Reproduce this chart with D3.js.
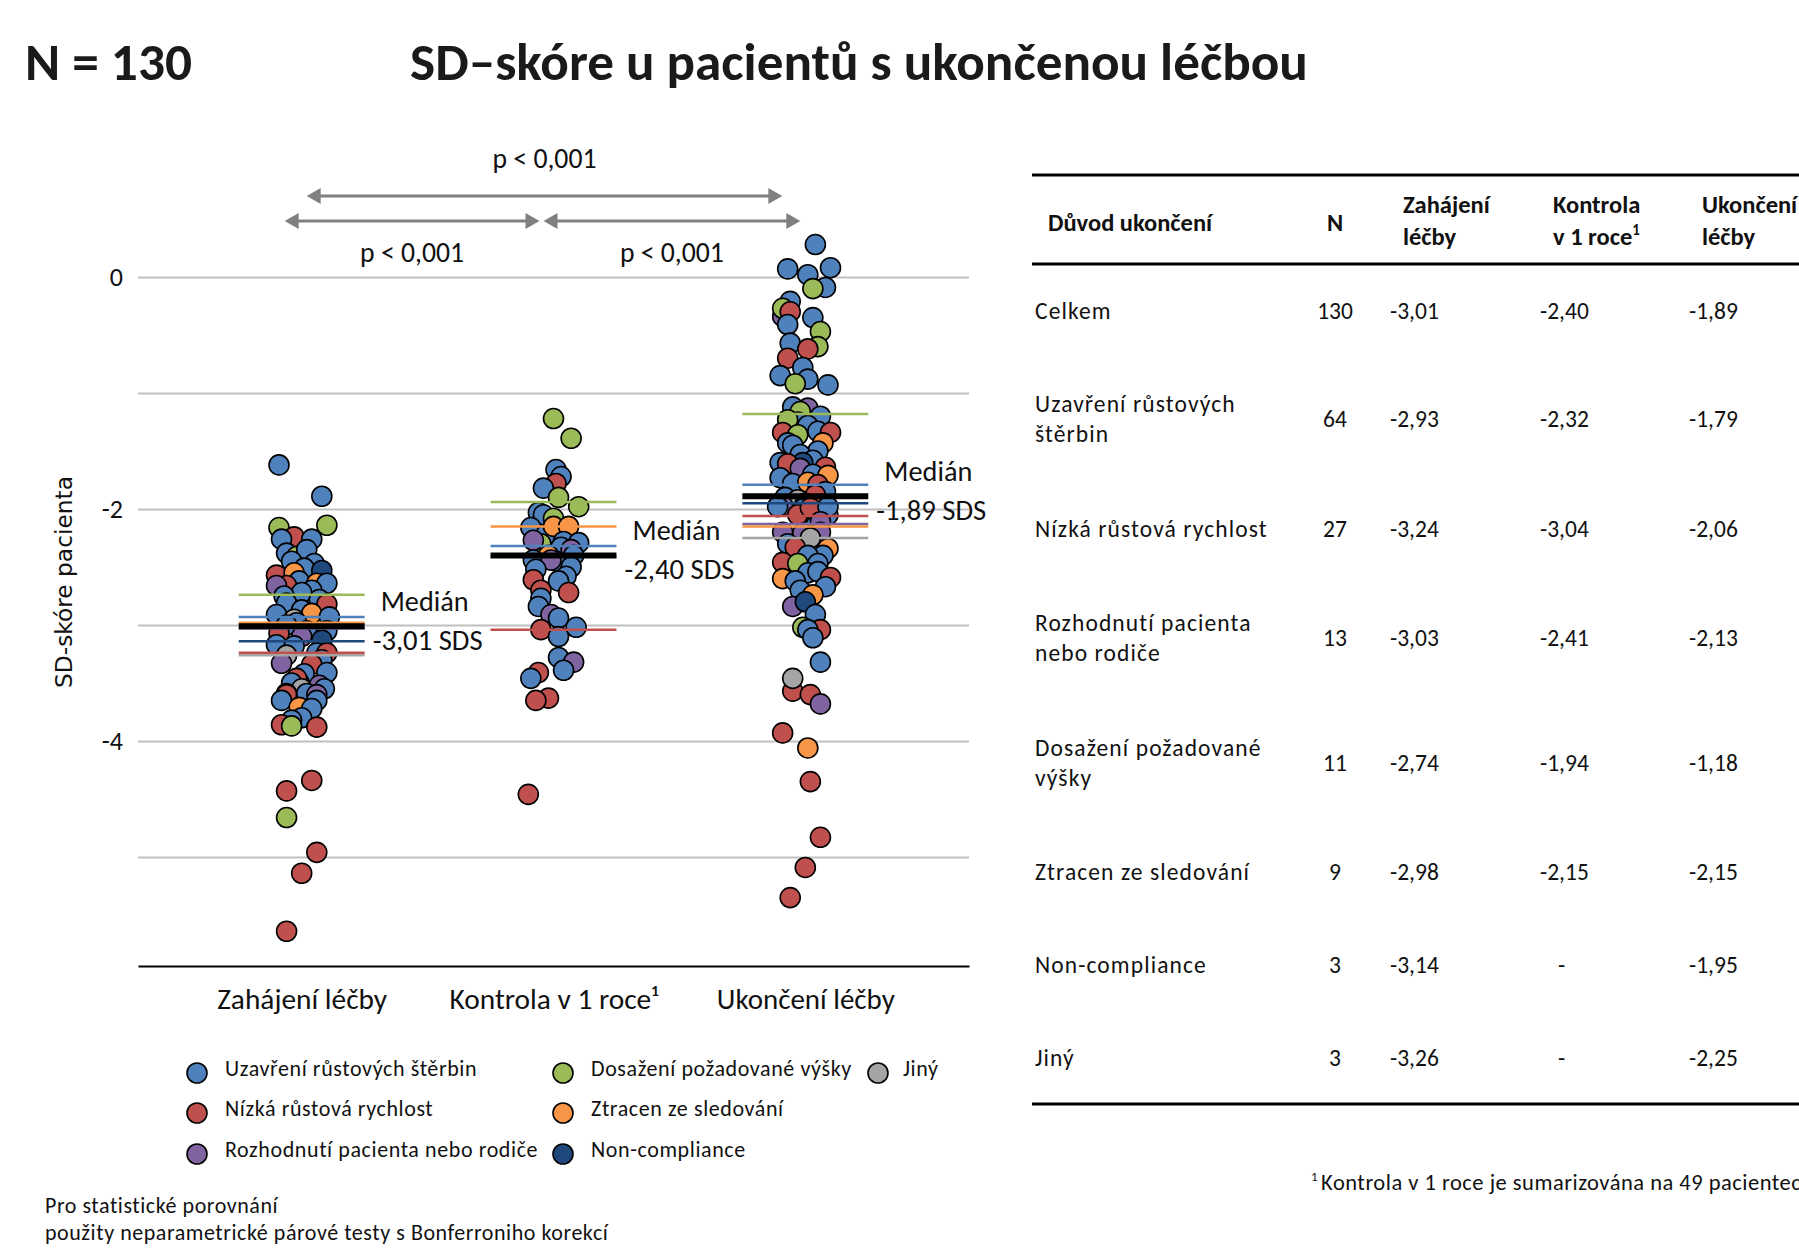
<!DOCTYPE html>
<html>
<head>
<meta charset="utf-8">
<script src="https://cdn.jsdelivr.net/npm/d3@7"></script>
<style>
  body { margin: 0; background: #fff; }
  svg { display: block; }
</style>
</head>
<body>
<div id="chart"></div>
<script>
// ---- data ----
var timepoints = ["Zahájení léčby", "Kontrola v 1 roce¹", "Ukončení léčby"];
var groupKeys = ["U", "N", "R", "D", "Z", "C", "J"];
var groupNames = ["Uzavření růstových štěrbin", "Nízká růstová rychlost", "Rozhodnutí pacienta nebo rodiče",
                  "Dosažení požadované výšky", "Ztracen ze sledování", "Non-compliance", "Jiný"];
var groupColors = ["#4f81bd", "#c0504d", "#8064a2", "#9bbb59", "#f79646", "#1f497d", "#a5a5a5"];
var groupN = [64, 27, 13, 11, 9, 3, 3];

var medianAll = [-3.01, -2.40, -1.89];
// medians of each group (groupKeys order), null = not summarised
var medZahajeni = [-2.93, -3.24, -3.03, -2.74, -2.98, -3.14, -3.26];
var medKontrola = [-2.32, -3.04, -2.41, -1.94, -2.15, null, null];
var medUkonceni = [-1.79, -2.06, -2.13, -1.18, -2.15, -1.95, -2.25];

var yTicks = [0, -2, -4];
var yGrid = [0, -1, -2, -3, -4, -5];
var pLabels = ["p < 0,001", "p < 0,001", "p < 0,001"];

// points: [x (1,2,3 + jitter), SD-skore, group]
var ptsZahajeni = [
  [0.91,-1.62,"U"],[1.08,-1.89,"U"],[0.91,-2.16,"D"],[1.10,-2.14,"D"],[0.97,-2.24,"N"],[1.04,-2.26,"U"],
  [0.92,-2.26,"U"],[0.94,-2.38,"U"],[0.98,-2.41,"D"],[1.02,-2.35,"U"],[0.96,-2.45,"U"],[1.05,-2.47,"U"],
  [1.01,-2.51,"U"],[1.08,-2.53,"C"],[0.90,-2.57,"N"],[0.97,-2.55,"Z"],[0.99,-2.62,"U"],[0.94,-2.66,"N"],
  [0.90,-2.66,"R"],[1.06,-2.64,"Z"],[1.10,-2.64,"U"],[1.04,-2.70,"U"],[1.00,-2.72,"U"],[0.93,-2.75,"U"],
  [1.07,-2.78,"U"],[0.94,-2.81,"U"],[1.10,-2.82,"N"],[1.00,-2.87,"U"],[1.04,-2.90,"Z"],[0.90,-2.91,"U"],
  [1.11,-2.93,"U"],[0.97,-2.95,"J"],[0.98,-2.98,"U"],[0.94,-3.00,"U"],[1.02,-3.05,"U"],[1.10,-3.05,"U"],
  [0.91,-3.07,"N"],[1.00,-3.10,"R"],[1.08,-3.13,"C"],[0.90,-3.17,"U"],[0.97,-3.18,"U"],[1.06,-3.24,"U"],
  [1.10,-3.24,"N"],[0.94,-3.26,"J"],[1.08,-3.30,"U"],[0.92,-3.33,"R"],[1.04,-3.34,"N"],[1.01,-3.42,"U"],
  [1.10,-3.41,"U"],[0.99,-3.50,"C"],[0.98,-3.46,"N"],[0.96,-3.50,"U"],[1.07,-3.52,"R"],[1.00,-3.55,"J"],
  [1.09,-3.55,"U"],[0.94,-3.59,"U"],[1.02,-3.59,"U"],[1.06,-3.60,"R"],[0.94,-3.60,"N"],[1.06,-3.65,"U"],
  [0.92,-3.65,"U"],[0.99,-3.71,"Z"],[1.04,-3.72,"U"],[1.00,-3.80,"U"],[0.96,-3.82,"U"],[0.92,-3.86,"N"],
  [0.96,-3.87,"D"],[1.06,-3.88,"N"],[1.04,-4.34,"N"],[0.94,-4.43,"N"],[0.94,-4.66,"D"],[1.06,-4.96,"N"],
  [1.00,-5.14,"N"],[0.94,-5.64,"N"]
];
var ptsKontrola = [
  [2.00,-1.22,"D"],[2.07,-1.39,"D"],[2.01,-1.66,"U"],[2.03,-1.72,"U"],[2.01,-1.78,"N"],[1.96,-1.82,"U"],
  [2.02,-1.90,"D"],[2.10,-1.98,"D"],[1.94,-2.03,"U"],[1.96,-2.05,"U"],[2.00,-2.08,"D"],[1.91,-2.16,"U"],
  [2.05,-2.20,"U"],[1.97,-2.22,"U"],[2.00,-2.15,"Z"],[2.06,-2.15,"Z"],[1.95,-2.30,"D"],[1.92,-2.27,"R"],
  [2.04,-2.28,"U"],[2.10,-2.29,"U"],[2.03,-2.33,"U"],[2.07,-2.35,"R"],[2.08,-2.40,"U"],[1.98,-2.40,"Z"],
  [1.92,-2.44,"U"],[2.01,-2.45,"U"],[1.99,-2.44,"R"],[2.07,-2.50,"U"],[1.93,-2.52,"U"],[2.05,-2.58,"U"],
  [2.02,-2.62,"U"],[1.92,-2.61,"N"],[1.95,-2.70,"N"],[2.06,-2.72,"N"],[1.95,-2.77,"U"],[1.94,-2.84,"U"],
  [1.99,-2.91,"R"],[2.02,-2.94,"U"],[2.09,-3.02,"U"],[1.95,-3.04,"N"],[2.02,-3.10,"U"],[2.02,-3.28,"U"],
  [2.08,-3.32,"R"],[2.04,-3.39,"U"],[1.94,-3.41,"N"],[1.91,-3.46,"U"],[1.98,-3.63,"N"],[1.93,-3.65,"N"],
  [1.90,-4.46,"N"]
];
var ptsUkonceni = [
  [3.04,0.28,"U"],[2.93,0.07,"U"],[3.10,0.08,"U"],[3.01,0.02,"U"],[3.08,-0.09,"U"],[3.03,-0.10,"D"],
  [2.94,-0.21,"U"],[2.91,-0.34,"R"],[2.91,-0.27,"D"],[2.94,-0.30,"N"],[2.93,-0.41,"U"],[3.03,-0.35,"U"],
  [3.06,-0.47,"D"],[3.05,-0.60,"D"],[2.94,-0.57,"U"],[3.01,-0.62,"N"],[2.93,-0.70,"N"],[2.99,-0.78,"U"],
  [2.90,-0.85,"U"],[3.01,-0.88,"U"],[2.96,-0.92,"D"],[3.09,-0.93,"U"],[2.95,-1.12,"U"],[3.01,-1.13,"R"],
  [2.98,-1.16,"D"],[3.06,-1.20,"U"],[2.97,-1.25,"U"],[2.93,-1.23,"D"],[3.01,-1.28,"U"],[2.91,-1.34,"N"],
  [2.97,-1.36,"D"],[3.05,-1.33,"U"],[3.10,-1.34,"N"],[3.07,-1.43,"Z"],[2.93,-1.43,"U"],[2.95,-1.45,"U"],
  [3.05,-1.50,"U"],[2.98,-1.53,"U"],[3.03,-1.58,"U"],[2.90,-1.60,"U"],[2.99,-1.60,"C"],[2.93,-1.61,"N"],
  [2.98,-1.65,"R"],[3.08,-1.64,"N"],[3.03,-1.70,"U"],[3.09,-1.71,"Z"],[2.90,-1.73,"U"],[2.95,-1.78,"U"],
  [3.01,-1.77,"Z"],[3.05,-1.79,"N"],[3.08,-1.85,"U"],[2.92,-1.90,"U"],[3.04,-1.88,"N"],[2.97,-1.92,"J"],
  [3.00,-1.95,"C"],[2.91,-1.97,"R"],[2.99,-2.00,"U"],[3.09,-2.05,"U"],[2.97,-2.05,"N"],[3.02,-1.99,"N"],
  [3.09,-1.98,"U"],[2.89,-1.98,"U"],[3.04,-2.15,"U"],[3.06,-2.11,"R"],[2.91,-2.20,"R"],[2.99,-2.21,"R"],
  [3.06,-2.20,"R"],[3.02,-2.25,"J"],[2.93,-2.30,"U"],[3.09,-2.34,"Z"],[2.96,-2.33,"N"],[3.07,-2.40,"U"],
  [3.01,-2.40,"U"],[3.05,-2.47,"U"],[2.91,-2.46,"N"],[2.97,-2.47,"D"],[3.01,-2.55,"U"],[2.91,-2.60,"Z"],
  [3.05,-2.54,"U"],[3.10,-2.59,"N"],[2.96,-2.62,"U"],[3.08,-2.67,"U"],[2.98,-2.70,"U"],[3.03,-2.74,"Z"],
  [2.95,-2.84,"R"],[3.00,-2.80,"C"],[3.04,-2.91,"U"],[2.99,-3.02,"D"],[3.06,-3.04,"N"],[3.01,-3.04,"U"],
  [3.03,-3.11,"U"],[3.06,-3.32,"U"],[2.95,-3.57,"N"],[2.95,-3.46,"J"],[3.02,-3.60,"N"],[3.06,-3.68,"R"],
  [2.91,-3.93,"N"],[3.01,-4.06,"Z"],[3.02,-4.35,"N"],[3.06,-4.83,"N"],[3.00,-5.09,"N"],[2.94,-5.35,"N"]
];

// table
var tableLabels = [["Celkem"], ["Uzavření růstových", "štěrbin"], ["Nízká růstová rychlost"],
                   ["Rozhodnutí pacienta", "nebo rodiče"], ["Dosažení požadované", "výšky"],
                   ["Ztracen ze sledování"], ["Non-compliance"], ["Jiný"]];
var tableN = [130].concat(groupN);
var tableZah = [medianAll[0]].concat(medZahajeni);
var tableKon = [medianAll[1]].concat(medKontrola);
var tableUko = [medianAll[2]].concat(medUkonceni);

// ---- layout ----
var W = 1799, H = 1251;
var FONT = "Carlito, Calibri, Lato, 'Open Sans', sans-serif";
// czech style numbers: decimal comma, plain hyphen as minus
var fmt = function (v) { return v == null ? "-" : d3.format(".2f")(v).replace(".", ",").replace("\u2212", "-"); };
var fmtInt = function (v) { return d3.format("d")(v).replace("\u2212", "-"); };

var svg = d3.select("#chart").append("svg")
  .attr("width", W).attr("height", H)
  .style("font-family", FONT);
svg.append("rect").attr("width", W).attr("height", H).attr("fill", "#fff");

// shrink/grow font so that text takes the given width
function fitWidth(sel, w) {
  sel.each(function () {
    var t = d3.select(this);
    var len = this.getComputedTextLength();
    var fs = parseFloat(t.attr("font-size"));
    if (len > 0) t.attr("font-size", (fs * w / len).toFixed(2));
  });
  return sel;
}

var x = d3.scaleLinear().domain([0.35, 3.65]).range([138, 969]);
var y = d3.scaleLinear().domain([0, -5]).range([277, 857]);
var yBase = -5.94;
var color = d3.scaleOrdinal().domain(groupKeys).range(groupColors);

// titles
fitWidth(svg.append("text").attr("x", 25).attr("y", 80).attr("font-size", 46)
  .attr("font-weight", "bold").attr("fill", "#1a1a1a").text("N = 130"), 167);
fitWidth(svg.append("text").attr("x", 410).attr("y", 80).attr("font-size", 46)
  .attr("font-weight", "bold").attr("fill", "#1a1a1a").text("SD–skóre u pacientů s ukončenou léčbou"), 898);

// grid
svg.append("g")
  .attr("transform", "translate(" + x.range()[0] + ",0)")
  .call(d3.axisLeft(y).tickValues(yGrid).tickSize(-(x.range()[1] - x.range()[0])).tickFormat(""))
  .call(function (g) {
    g.select(".domain").remove();
    g.selectAll("line").attr("stroke", "#c0c0c0").attr("stroke-width", 2);
  });

// y tick labels
svg.append("g")
  .attr("transform", "translate(" + x.range()[0] + ",0)")
  .call(d3.axisLeft(y).tickValues(yTicks).tickSize(0).tickPadding(15).tickFormat(fmtInt))
  .call(function (g) {
    g.select(".domain").remove();
    g.selectAll("text").attr("font-size", 26).attr("font-family", FONT).attr("fill", "#111");
  });

// y title
fitWidth(svg.append("text")
  .attr("transform", "translate(72," + ((476 + 688) / 2) + ") rotate(-90)")
  .attr("text-anchor", "middle").attr("font-family", "'DejaVu Sans', Verdana, sans-serif")
  .attr("font-size", 21).attr("fill", "#111").text("SD-skóre pacienta"), 212);

// bottom axis
var catWidths = [170, 209, 178];
svg.append("g")
  .attr("transform", "translate(0," + y(yBase) + ")")
  .call(d3.axisBottom(x).tickValues([1, 2, 3]).tickSize(0).tickSizeOuter(0).tickPadding(30)
    .tickFormat(function (d) { return timepoints[d - 1]; }))
  .call(function (g) {
    g.select(".domain").attr("stroke", "#000").attr("stroke-width", 2);
    g.selectAll("text").attr("font-size", 25).attr("font-family", FONT).attr("fill", "#111");
    g.selectAll(".tick text").attr("dy", "0.35em").attr("y", 33)
      .each(function (d, i) { fitWidth(d3.select(this), catWidths[i]); });
  });

// points
var allPts = [ptsZahajeni, ptsKontrola, ptsUkonceni];
allPts.forEach(function (pts, i) {
  svg.append("g").selectAll("circle").data(pts).enter().append("circle")
    .attr("cx", function (d) { return x(d[0]); })
    .attr("cy", function (d) { return y(d[1]); })
    .attr("r", 10)
    .attr("fill", function (d) { return color(d[2]); })
    .attr("stroke", "#000").attr("stroke-width", 1.6);
});

// median lines
var groupMeds = [medZahajeni, medKontrola, medUkonceni];
groupMeds.forEach(function (meds, i) {
  var g = svg.append("g");
  var c = i + 1;
  var rows = meds.map(function (m, k) { return { m: m, k: k }; }).filter(function (d) { return d.m != null; });
  g.selectAll("line").data(rows).enter().append("line")
    .attr("x1", x(c - 0.25)).attr("x2", x(c + 0.25))
    .attr("y1", function (d) { return y(d.m); }).attr("y2", function (d) { return y(d.m); })
    .attr("stroke", function (d) { return groupColors[d.k]; }).attr("stroke-width", 2.5);
  g.append("line")
    .attr("x1", x(c - 0.25)).attr("x2", x(c + 0.25))
    .attr("y1", y(medianAll[i])).attr("y2", y(medianAll[i]))
    .attr("stroke", "#000").attr("stroke-width", 6);
  fitWidth(g.append("text").attr("x", x(c) + 79).attr("y", y(medianAll[i]) - 15)
    .attr("font-size", 26).attr("fill", "#111").text("Medián"), 88);
  fitWidth(g.append("text").attr("x", x(c) + 71).attr("y", y(medianAll[i]) + 24)
    .attr("font-size", 26).attr("fill", "#111").text(fmt(medianAll[i]) + " SDS"), 110);
});

// significance arrows
function arrow(x1, x2, yy) {
  var g = svg.append("g").attr("fill", "#808080");
  var hl = 14, hw = 8;
  g.append("line").attr("x1", x1 + hl - 1).attr("x2", x2 - hl + 1).attr("y1", yy).attr("y2", yy)
    .attr("stroke", "#808080").attr("stroke-width", 3);
  g.append("path").attr("d", "M" + x1 + "," + yy + "L" + (x1 + hl) + "," + (yy - hw) + "L" + (x1 + hl) + "," + (yy + hw) + "Z");
  g.append("path").attr("d", "M" + x2 + "," + yy + "L" + (x2 - hl) + "," + (yy - hw) + "L" + (x2 - hl) + "," + (yy + hw) + "Z");
}
var arrows = [
  { a: x(1) + 5, b: x(3) - 23, y: 196, ty: 168 },
  { a: x(1) - 17, b: x(2) - 14, y: 221, ty: 262 },
  { a: x(2) - 10, b: x(3) - 5, y: 221, ty: 262 }
];
arrows.forEach(function (d, i) {
  arrow(d.a, d.b, d.y);
  fitWidth(svg.append("text").attr("x", (d.a + d.b) / 2).attr("y", d.ty).attr("text-anchor", "middle")
    .attr("font-size", 25).attr("fill", "#111").text(pLabels[i]), 104);
});

// legend
var legendPos = [[0, 0], [0, 1], [0, 2], [1, 0], [1, 1], [1, 2], [2, 0]];
var legColX = [197, 563, 878], legRowY = [1073, 1113, 1154];
var leg = svg.append("g").selectAll("g").data(groupKeys).enter().append("g")
  .attr("transform", function (d, i) {
    return "translate(" + legColX[legendPos[i][0]] + "," + legRowY[legendPos[i][1]] + ")";
  });
leg.append("circle").attr("r", 10).attr("fill", function (d) { return color(d); })
  .attr("stroke", "#000").attr("stroke-width", 1.6);
leg.append("text").attr("x", function (d, i) { return i === 6 ? 25 : 28; }).attr("y", -5)
  .attr("dy", "0.35em").attr("font-size", 22).attr("fill", "#111").attr("letter-spacing", 0.6)
  .text(function (d, i) { return groupNames[i]; });

// left footnote
svg.append("text").attr("x", 45).attr("y", 1213).attr("font-size", 22).attr("fill", "#111")
  .attr("letter-spacing", 0.55).text("Pro statistické porovnání");
svg.append("text").attr("x", 45).attr("y", 1240).attr("font-size", 22).attr("fill", "#111")
  .attr("letter-spacing", 0.55).text("použity neparametrické párové testy s Bonferroniho korekcí");

// table
var tab = svg.append("g").attr("fill", "#111");
var colLabel = 1035, colN = 1335, colVals = [1390, 1540, 1689];
var tableRowY = [311, 419, 529, 638, 763, 872, 965, 1058];
[175, 264, 1104].forEach(function (ly) {
  tab.append("line").attr("x1", 1032).attr("x2", W).attr("y1", ly).attr("y2", ly)
    .attr("stroke", "#000").attr("stroke-width", 3);
});
var hdr = tab.append("g").attr("font-weight", "bold").attr("font-size", 24.5);
hdr.append("text").attr("x", 1048).attr("y", 231).text("Důvod ukončení");
hdr.append("text").attr("x", colN).attr("y", 231).attr("text-anchor", "middle").text("N");
var hdrLines = [["Zahájení", "léčby"], ["Kontrola", "v 1 roce"], ["Ukončení", "léčby"]];
hdrLines.forEach(function (h, i) {
  hdr.append("text").attr("x", colVals[i] + 13).attr("y", 213).text(h[0]);
  var t2 = hdr.append("text").attr("x", colVals[i] + 13).attr("y", 245).text(h[1]);
  if (i === 1) t2.append("tspan").attr("font-size", 15).attr("dy", -10).text("1");
});
var body = tab.append("g").attr("font-size", 23.5);
tableLabels.forEach(function (lab, r) {
  var cy = tableRowY[r];
  lab.forEach(function (s, j) {
    var off = lab.length === 1 ? 0 : (j === 0 ? -15 : 15);
    body.append("text").attr("x", colLabel).attr("y", cy + off).attr("dy", "0.35em")
      .attr("letter-spacing", 1.1).text(s);
  });
  body.append("text").attr("x", colN).attr("y", cy).attr("dy", "0.35em").attr("text-anchor", "middle").text(tableN[r]);
  [tableZah[r], tableKon[r], tableUko[r]].forEach(function (v, c) {
    body.append("text").attr("x", v == null ? colVals[c] + 18 : colVals[c]).attr("y", cy).attr("dy", "0.35em").text(fmt(v));
  });
});
var fn = tab.append("text").attr("x", 1311).attr("y", 1190).attr("font-size", 22.5).attr("letter-spacing", 0.5);
fn.append("tspan").attr("font-size", 13).attr("dy", -9).text("1");
fn.append("tspan").attr("dx", 3).attr("dy", 9).text("Kontrola v 1 roce je sumarizována na 49 pacientech");
</script>
</body>
</html>
